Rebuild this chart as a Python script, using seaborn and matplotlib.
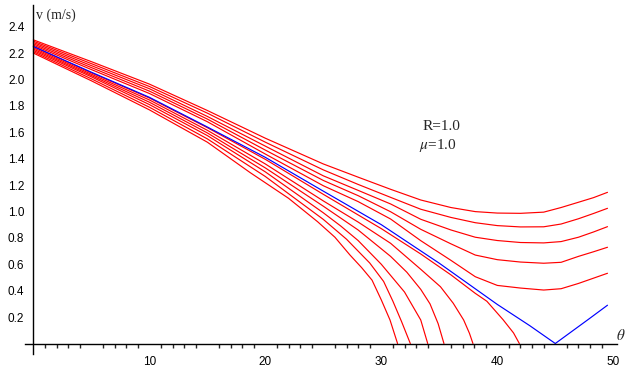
import pandas as pd
import seaborn as sns
import matplotlib.pyplot as plt
from matplotlib.ticker import MultipleLocator, FixedLocator, FuncFormatter

# curves (theta in degrees, v in m/s)
theta_up = [0, 5, 10, 15, 20, 25, 28, 30.8, 33.4, 36, 38.1, 40, 42, 44, 45.5, 47, 48.3, 49.5]
v_u1 = [2.30, 2.135, 1.965, 1.765, 1.555, 1.36, 1.26, 1.168, 1.087, 1.03, 0.999, 0.988, 0.986, 0.995, 1.03, 1.07, 1.105, 1.145]
v_u2 = [2.29, 2.12, 1.947, 1.745, 1.525, 1.315, 1.205, 1.107, 1.017, 0.955, 0.915, 0.893, 0.883, 0.884, 0.905, 0.945, 0.985, 1.024]
v_u3 = [2.28, 2.105, 1.93, 1.72, 1.495, 1.27, 1.16, 1.057, 0.941, 0.86, 0.805, 0.78, 0.765, 0.762, 0.772, 0.805, 0.845, 0.885]
v_u4 = [2.27, 2.09, 1.912, 1.70, 1.465, 1.235, 1.12, 0.998, 0.865, 0.755, 0.67, 0.635, 0.617, 0.608, 0.615, 0.66, 0.695, 0.729]
v_u5 = [2.26, 2.075, 1.894, 1.68, 1.435, 1.195, 1.075, 0.943, 0.779, 0.63, 0.506, 0.44, 0.42, 0.405, 0.415, 0.455, 0.495, 0.532]

theta_l1 = [0, 5, 10, 15, 20, 25, 30, 33.4, 36, 38.1, 39.1, 40.5, 41.4, 41.9]
v_l1 = [2.25, 2.05, 1.86, 1.635, 1.395, 1.13, 0.87, 0.678, 0.52, 0.38, 0.32, 0.18, 0.08, 0.0]
theta_l2 = [0, 5, 10, 15, 20, 25, 28, 30.8, 33.4, 35.1, 36.2, 37.1, 37.6, 37.9]
v_l2 = [2.24, 2.04, 1.845, 1.615, 1.36, 1.08, 0.92, 0.759, 0.562, 0.43, 0.305, 0.178, 0.077, 0.0]
theta_l3 = [0, 5, 10, 15, 20, 25, 28, 30.8, 32.2, 33.4, 34.2, 34.9, 35.4]
v_l3 = [2.23, 2.03, 1.828, 1.595, 1.33, 1.04, 0.86, 0.66, 0.54, 0.41, 0.30, 0.15, 0.0]
theta_l4 = [0, 5, 10, 15, 20, 25, 26.5, 28, 30, 32, 33.4, 34.0]
v_l4 = [2.22, 2.02, 1.81, 1.575, 1.30, 0.99, 0.89, 0.78, 0.60, 0.39, 0.178, 0.0]
theta_l5 = [0, 5, 10, 15, 20, 25, 27, 29, 30.2, 31.0, 31.75, 32.5]
v_l5 = [2.21, 2.005, 1.79, 1.55, 1.265, 0.94, 0.79, 0.61, 0.47, 0.32, 0.165, 0.0]
theta_l6 = [0, 5, 10, 15, 18.7, 22, 24.5, 26, 27.3, 28.3, 29.2, 30.0, 30.75, 31.4]
v_l6 = [2.20, 1.99, 1.77, 1.525, 1.294, 1.10, 0.923, 0.805, 0.67, 0.575, 0.48, 0.33, 0.178, 0.0]

theta_blue = [0, 5, 10, 15, 20, 25, 30, 35, 40, 42.8, 45, 47.9, 49.5]
v_blue = [2.25, 2.055, 1.865, 1.64, 1.41, 1.154, 0.90, 0.608, 0.296, 0.135, 0.0, 0.186, 0.29]

y_ticks = [0.2, 0.4, 0.6, 0.8, 1.0, 1.2, 1.4, 1.6, 1.8, 2.0, 2.2, 2.4]

red_curves = [
    (theta_up, v_u1), (theta_up, v_u2), (theta_up, v_u3), (theta_up, v_u4), (theta_up, v_u5),
    (theta_l1, v_l1), (theta_l2, v_l2), (theta_l3, v_l3), (theta_l4, v_l4), (theta_l5, v_l5),
    (theta_l6, v_l6),
]
frames = []
for i, (t, v) in enumerate(red_curves):
    frames.append(pd.DataFrame({"theta": t, "v": v, "curve": i}))
red_df = pd.concat(frames, ignore_index=True)
blue_df = pd.DataFrame({"theta": theta_blue, "v": v_blue})

sns.set_style("white")
plt.rcParams["font.family"] = ["Liberation Sans", "DejaVu Sans"]
plt.rcParams["mathtext.fontset"] = "stix"

fig = plt.figure(figsize=(6.32, 3.70), dpi=100)
ax = fig.add_axes([25 / 632, 16 / 370, 592 / 632, 349 / 370])

sns.lineplot(data=red_df, x="theta", y="v", units="curve", estimator=None, sort=False,
             color="#ff0000", linewidth=0.85, ax=ax)
sns.lineplot(data=blue_df, x="theta", y="v", estimator=None, sort=False,
             color="#0000ff", linewidth=0.85, ax=ax)

ax.set_xlim(-0.72, 50.32)
ax.set_ylim(-0.0795, 2.564)
ax.set_xlabel("")
ax.set_ylabel("")

for side in ["top", "right"]:
    ax.spines[side].set_visible(False)
ax.spines["left"].set_position(("data", 0))
ax.spines["bottom"].set_position(("data", 0))
for side in ["left", "bottom"]:
    ax.spines[side].set_color("black")
    ax.spines[side].set_linewidth(1.0)

ax.xaxis.set_major_locator(MultipleLocator(5))
ax.xaxis.set_minor_locator(MultipleLocator(1))
ax.xaxis.set_major_formatter(FuncFormatter(lambda x, _: f"{x:.0f}" if x > 0 and round(x) % 10 == 0 else ""))
ax.yaxis.set_major_locator(FixedLocator(y_ticks))
ax.yaxis.set_major_formatter(FuncFormatter(lambda y, _: f"{y:.1f}"))

ax.tick_params(axis="x", which="major", direction="out", length=5, width=1, pad=4, labelsize=8.5, colors="black")
ax.tick_params(axis="x", which="minor", direction="out", length=3, width=1, bottom=True)
ax.tick_params(axis="y", which="major", direction="out", length=5, width=1, pad=1.5, labelsize=8.5, colors="black")

serif = ["Liberation Serif", "DejaVu Serif"]
ax.text(0.23, 2.489, "v (m/s)", family=serif, fontsize=10, ha="left", va="center")
ax.text(50.66, 0.064, r"$\theta$", fontsize=11, ha="center", va="center")
ax.text(35.16, 1.644, "R=1.0", family=serif, fontsize=11, ha="center", va="center")
ax.text(34.89, 1.496, r"$\mu$=1.0", family=serif, fontsize=11, ha="center", va="center")

fig.savefig("out.png", dpi=100)
